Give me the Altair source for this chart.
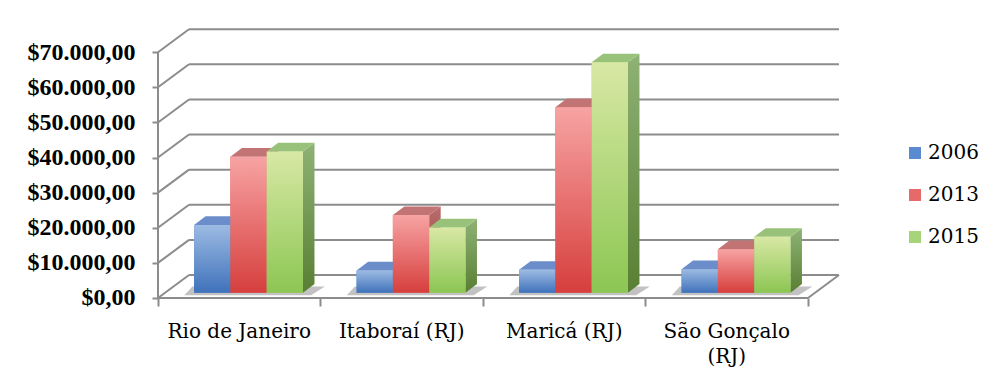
import altair as alt
import pandas as pd

# ---- data ----
categories = ["Rio de Janeiro", "Itaboraí (RJ)", "Maricá (RJ)", "São Gonçalo\n(RJ)"]
years = ["2006", "2013", "2015"]
v2006 = [19300, 6300, 6500, 6700]
v2013 = [38700, 22100, 52800, 12400]
v2015 = [40200, 18600, 65600, 15900]
y_ticks = [0, 10000, 20000, 30000, 40000, 50000, 60000, 70000]
cat_ticks = [0, 1, 2, 3, 4]

# ---- layout constants (3D look) ----
XMAX = 4.25
YMAX = 79170
PLOT_W = 690.6
PLOT_H = 278
BAR_OFF = 0.222
BAR_W = 0.2234
BASE = 1510
DX = 0.0708
DY = 2478
WDX = 0.1908
WDY = 6550
NCAT = len(categories)
NSER = len(years)
GRID = "#8c8c8c"

rows = []
for ci, cat in enumerate(categories):
    for si, (yr, vals) in enumerate(zip(years, [v2006, v2013, v2015])):
        for t in (0, 1):
            rows.append(dict(cat=cat, ci=ci, year=yr, si=si, value=vals[ci], t=t))
bars = pd.DataFrame(rows)
grid = pd.DataFrame({"v": y_ticks})
cats = pd.DataFrame({"cat": categories, "ci": list(range(NCAT))})

XS = alt.Scale(domain=[0, XMAX], nice=False, zero=False)
YS = alt.Scale(domain=[0, YMAX], nice=False, zero=False)
AX = alt.Axis(values=cat_ticks, tickSize=8, tickWidth=2, tickColor=GRID,
              labels=False, domain=False, grid=False, title=None)
AY = alt.Axis(
    values=y_ticks, tickSize=6, tickWidth=2, tickColor=GRID, domain=False, grid=False, title=None,
    labelFont="Liberation Serif", labelFontWeight="bold", labelFontSize=24, labelColor="black",
    labelPadding=17,
    labelExpr="'$' + replace(replace(replace(format(datum.value, ',.2f'), ',', '_'), '.', ','), '_', '.')",
)


def X(f):
    return alt.X(f, scale=XS, axis=AX, title=None)


def Y(f):
    return alt.Y(f, scale=YS, axis=AY, title=None)


front_grad = [("#9dbbe3", "#3f72bb"), ("#f7a3a3", "#d63f3d"), ("#d8e8a4", "#8cc653")]
side_grad = [("#6585bb", "#2f5996"), ("#bb6c6c", "#8a3535"), ("#8fb275", "#587f33")]
top_col = ["#6b8dca", "#c27474", "#98c27a"]
legend_col = ["#5a8ad0", "#e66a6a", "#a6d478"]


def vgrad(c1, c2):
    return alt.LinearGradient(
        gradient="linear",
        stops=[alt.GradientStop(color=c1, offset=0), alt.GradientStop(color=c2, offset=1)],
        x1=0, x2=0, y1=0, y2=1,
    )


bar_base = (
    alt.Chart(bars)
    .transform_calculate(x0=f"datum.ci + {BAR_OFF} + datum.si * {BAR_W}")
    .transform_calculate(x1=f"datum.x0 + {BAR_W}")
    .transform_calculate(top=f"{BASE} + datum.value")
    .transform_calculate(bot=f"{BASE}")
    .transform_calculate(sx=f"datum.x1 + datum.t * {DX}")
    .transform_calculate(sy=f"datum.top + datum.t * {DY}")
    .transform_calculate(sy2=f"datum.bot + datum.t * {DY}")
    .transform_calculate(tx=f"datum.x0 + datum.t * {DX}")
    .transform_calculate(tx2=f"datum.x1 + datum.t * {DX}")
)

# ---- grid / walls ----
g = alt.Chart(grid)
diag = g.transform_calculate(x="0", x2=f"{WDX}", y2=f"datum.v + {WDY}").mark_rule(
    color=GRID, strokeWidth=2
).encode(x=X("x:Q"), x2="x2:Q", y=Y("v:Q"), y2="y2:Q")
back = g.transform_calculate(x=f"{WDX}", x2=f"{NCAT} + {WDX}", y=f"datum.v + {WDY}").mark_rule(
    color=GRID, strokeWidth=2
).encode(x=X("x:Q"), x2="x2:Q", y=Y("y:Q"))

g0 = g.transform_filter("datum.v == 0")
floor_front = g0.transform_calculate(x="0", x2=f"{NCAT}").mark_rule(color=GRID, strokeWidth=2).encode(
    x=X("x:Q"), x2="x2:Q", y=Y("v:Q"))
floor_right = g0.transform_calculate(x=f"{NCAT}", x2=f"{NCAT} + {WDX}", y2=f"{WDY}").mark_rule(
    color=GRID, strokeWidth=2).encode(x=X("x:Q"), x2="x2:Q", y=Y("v:Q"), y2="y2:Q")
front_axis = g0.transform_calculate(x="0", y2=f"{max(y_ticks)}").mark_rule(color=GRID, strokeWidth=2).encode(
    x=X("x:Q"), y=Y("v:Q"), y2="y2:Q")

# ---- floor shadow under each group ----
shadow = (
    bar_base.transform_filter("datum.si == 0")
    .transform_calculate(shy=f"datum.t == 0 ? {BASE} - 700 : {BASE} + {DY} * 0.7")
    .transform_calculate(shx=f"datum.x0 - 0.06 + datum.t * {DX} * 0.7")
    .transform_calculate(shx2=f"datum.x0 + {NSER} * {BAR_W} + 0.05 + datum.t * {DX} * 1.2")
    .mark_area(orient="horizontal", color="#666666", opacity=0.4)
    .encode(y=Y("shy:Q"), x=X("shx:Q"), x2="shx2:Q", detail="cat:N")
)

# ---- flat fronts (legend source) ----
flat = bar_base.transform_filter("datum.t == 0").mark_rect().encode(
    x=X("x0:Q"), x2="x1:Q", y=Y("top:Q"), y2="bot:Q",
    color=alt.Color("year:N", scale=alt.Scale(domain=years, range=legend_col),
                    legend=alt.Legend(orient="none", legendX=747, legendY=123, title=None,
                                      symbolType="square", symbolSize=144, symbolStrokeWidth=0,
                                      labelFont="DejaVu Serif", labelFontSize=20, labelColor="black",
                                      rowPadding=22, labelOffset=3, padding=0)),
)

layers = [diag, back, floor_front, floor_right, front_axis, shadow, flat]
for j in range(NSER):
    b = bar_base.transform_filter(f"datum.si == {j}")
    side = b.mark_area(orient="vertical", color=vgrad(*side_grad[j])).encode(
        x=X("sx:Q"), y=Y("sy:Q"), y2="sy2:Q", detail="cat:N")
    topf = b.mark_area(orient="horizontal", color=top_col[j]).encode(
        y=Y("sy:Q"), x=X("tx:Q"), x2="tx2:Q", detail="cat:N")
    frontf = b.transform_filter("datum.t == 0").mark_rect(color=vgrad(*front_grad[j])).encode(
        x=X("x0:Q"), x2="x1:Q", y=Y("top:Q"), y2="bot:Q")
    layers += [side, topf, frontf]

labels = alt.Chart(cats).transform_calculate(xc="datum.ci + 0.5", y0="0").mark_text(
    font="DejaVu Serif", fontSize=20, color="black", baseline="alphabetic", align="center",
    dy=40, lineBreak="\n", lineHeight=25,
).encode(x=X("xc:Q"), y=Y("y0:Q"), text="cat:N")
layers.append(labels)

chart = alt.layer(*layers).properties(
    width=PLOT_W, height=PLOT_H,
    autosize=alt.AutoSizeParams(type="none"),
    padding={"left": 150, "top": 12, "right": 140, "bottom": 75},
    background="white",
).configure_view(stroke=None)

chart.save("out.html", embed_options={"renderer": "svg", "actions": False})
